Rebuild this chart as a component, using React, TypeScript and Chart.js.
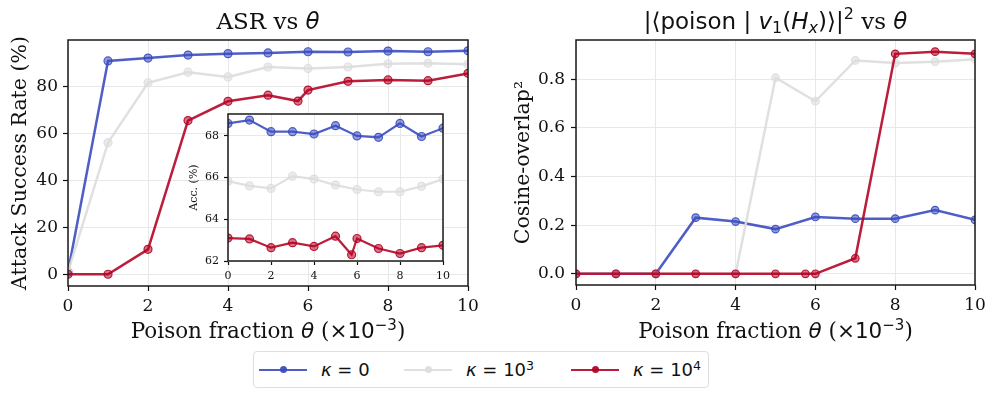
import React, { useEffect, useRef } from "react";
import { Chart, registerables } from "chart.js";
Chart.register(...registerables);

// ---------- data ----------
const THETA = [0, 1, 2, 3, 4, 5, 6, 7, 8, 9, 10];
const THETA_K4 = [0, 1, 2, 3, 4, 5, 5.75, 6, 7, 8, 9, 10];

const ASR_K0 = [1.0, 90.8, 92.0, 93.3, 93.9, 94.2, 94.7, 94.6, 95.0, 94.7, 95.1];
const ASR_K3 = [1.0, 56.0, 81.5, 86.0, 84.0, 88.2, 87.6, 88.2, 89.6, 89.8, 89.4];
const ASR_K4 = [0, 0, 10.6, 65.4, 73.6, 76.2, 73.7, 78.4, 82.1, 82.7, 82.4, 85.5];

const ACC_K0 = [68.6, 68.76, 68.2, 68.2, 68.09, 68.49, 68.0, 67.93, 68.6, 67.97, 68.37];
const ACC_K3 = [65.83, 65.6, 65.48, 66.07, 65.93, 65.64, 65.43, 65.32, 65.32, 65.58, 65.93];
const ACC_K4 = [63.1, 63.06, 62.64, 62.88, 62.7, 63.19, 62.3, 63.08, 62.6, 62.36, 62.64, 62.75];

const COS_K0 = [0, 0, 0, 0.231, 0.215, 0.184, 0.234, 0.227, 0.227, 0.262, 0.222];
const COS_K3 = [0, 0, 0, 0, 0, 0.807, 0.71, 0.878, 0.867, 0.873, 0.883];
const COS_K4 = [0, 0, 0, 0, 0, 0, 0, 0, 0.064, 0.905, 0.914, 0.905];

const X_TICKS = [0, 2, 4, 6, 8, 10];
const ASR_TICKS = [0, 20, 40, 60, 80];
const ACC_TICKS = [62, 64, 66, 68];
const COS_TICKS = [0, 0.2, 0.4, 0.6, 0.8];

const SERIES_NAMES = ["κ = 0", "κ = 10³", "κ = 10⁴"];

// ---------- style ----------
const SERIF = '"DejaVu Serif", serif';
const SANS = '"DejaVu Sans", sans-serif';
const RGB_K0 = [59, 76, 192];
const RGB_K3 = [221, 221, 221];
const RGB_K4 = [180, 4, 38];
const TEXT = "#111";

const rgba = (c: number[], a: number) => `rgba(${c[0]},${c[1]},${c[2]},${a})`;

function series(label: string, xs: number[], ys: number[], rgb: number[], order: number, radius: number, lw: number) {
  return {
    label,
    data: xs.map((x, i) => ({ x, y: ys[i] })),
    borderColor: rgba(rgb, 0.9),
    backgroundColor: rgba(rgb, 0.55),
    borderWidth: lw,
    pointRadius: radius,
    pointHoverRadius: radius,
    pointBackgroundColor: rgba(rgb, 0.55),
    pointBorderColor: rgba(rgb, 0.9),
    pointBorderWidth: 1.2,
    tension: 0,
    fill: false,
    clip: 0,
    order,
  };
}

function axis(o: {
  min: number;
  max: number;
  ticks: number[];
  fmt: (v: number) => string;
  size: number;
  tickLen: number;
  pad: number;
  fit: (s: any) => void;
  title?: { text: string; size: number; pad: number };
}) {
  return {
    type: "linear",
    min: o.min,
    max: o.max,
    afterBuildTicks: (s: any) => {
      s.ticks = o.ticks.map((v) => ({ value: v }));
    },
    afterFit: o.fit,
    ticks: {
      callback: (v: any) => o.fmt(Number(v)),
      font: { family: SERIF, size: o.size },
      color: TEXT,
      padding: o.pad,
      maxRotation: 0,
      autoSkip: false,
    },
    grid: {
      color: "#e8e8e8",
      lineWidth: 1,
      tickColor: TEXT,
      tickLength: o.tickLen,
      tickWidth: 1.2,
      drawTicks: true,
    },
    border: { display: false },
    title: o.title
      ? {
          display: true,
          text: o.title.text,
          font: { family: SERIF, size: o.title.size },
          color: TEXT,
          padding: { top: o.title.pad, bottom: 0 },
        }
      : { display: false },
  };
}

type Run = { t: string; f: string; dy?: number };

function richPlugin(items: { runs: Run[]; y: number }[]) {
  return {
    id: "richText",
    afterDraw(chart: any) {
      const ctx = chart.ctx;
      const ca = chart.chartArea;
      for (const it of items) {
        ctx.save();
        ctx.fillStyle = TEXT;
        ctx.textBaseline = "alphabetic";
        ctx.textAlign = "left";
        let w = 0;
        for (const r of it.runs) {
          ctx.font = r.f;
          w += ctx.measureText(r.t).width;
        }
        let x = (ca.left + ca.right) / 2 - w / 2;
        for (const r of it.runs) {
          ctx.font = r.f;
          ctx.fillText(r.t, x, it.y + (r.dy || 0));
          x += ctx.measureText(r.t).width;
        }
        ctx.restore();
      }
    },
  };
}

const framePlugin = {
  id: "frame",
  afterDatasetsDraw(chart: any) {
    const { ctx, chartArea: ca } = chart;
    ctx.save();
    ctx.strokeStyle = "#1a1a1a";
    ctx.lineWidth = 1.5;
    ctx.strokeRect(ca.left, ca.top, ca.right - ca.left, ca.bottom - ca.top);
    ctx.restore();
  },
};

const whiteAreaPlugin = {
  id: "whiteArea",
  beforeDraw(chart: any) {
    const { ctx, chartArea: ca } = chart;
    ctx.save();
    ctx.fillStyle = "#ffffff";
    ctx.fillRect(ca.left, ca.top, ca.right - ca.left, ca.bottom - ca.top);
    ctx.restore();
  },
};

const T = 23; // title size
const TS = 16; // title script size
const L = 21.5; // x label size
const S = 15; // label script size

const xLabelRuns: Run[] = [
  { t: "Poison fraction ", f: `${L}px ${SERIF}` },
  { t: "θ", f: `italic ${L}px ${SANS}` },
  { t: " (", f: `${L}px ${SERIF}` },
  { t: "×10", f: `${L}px ${SANS}` },
  { t: "−3", f: `${S}px ${SANS}`, dy: -8.5 },
  { t: ")", f: `${L}px ${SERIF}` },
];

const leftTitleRuns: Run[] = [
  { t: "ASR vs ", f: `${T}px ${SERIF}` },
  { t: "θ", f: `italic ${T}px ${SANS}` },
];

const rightTitleRuns: Run[] = [
  { t: "|⟨poison | ", f: `${T}px ${SANS}` },
  { t: "v", f: `italic ${T}px ${SANS}` },
  { t: "1", f: `${TS}px ${SANS}`, dy: 4 },
  { t: "(", f: `${T}px ${SANS}` },
  { t: "H", f: `italic ${T}px ${SANS}` },
  { t: "x", f: `italic ${TS}px ${SANS}`, dy: 4 },
  { t: ")⟩|", f: `${T}px ${SANS}` },
  { t: "2", f: `${TS}px ${SANS}`, dy: -10 },
  { t: " vs ", f: `${T}px ${SERIF}` },
  { t: "θ", f: `italic ${T}px ${SANS}` },
];

const baseOptions = {
  responsive: false,
  animation: false,
  events: [],
  plugins: { legend: { display: false }, tooltip: { enabled: false } },
};

export default function App() {
  const leftRef = useRef<HTMLCanvasElement>(null);
  const rightRef = useRef<HTMLCanvasElement>(null);
  const insetRef = useRef<HTMLCanvasElement>(null);

  useEffect(() => {
    const charts: Chart[] = [];

    charts.push(
      new Chart(leftRef.current as HTMLCanvasElement, {
        type: "line",
        data: {
          datasets: [
            series(SERIES_NAMES[0], THETA, ASR_K0, RGB_K0, 2, 4, 2.5),
            series(SERIES_NAMES[1], THETA, ASR_K3, RGB_K3, 1, 4, 2.5),
            series(SERIES_NAMES[2], THETA_K4, ASR_K4, RGB_K4, 0, 4, 2.5),
          ],
        } as any,
        options: {
          ...baseOptions,
          layout: { padding: { top: 40, right: 29, left: 0, bottom: 0 } },
          scales: {
            x: axis({ min: 0, max: 10, ticks: X_TICKS, fmt: (v) => String(v), size: 17, tickLen: 5, pad: 5, fit: (s) => { s.height = 59; } }),
            y: axis({
              min: -5,
              max: 99.7,
              ticks: ASR_TICKS,
              fmt: (v) => String(v),
              size: 17,
              tickLen: 5,
              pad: 5,
              fit: (s) => { s.width = 68; },
              title: { text: "Attack Success Rate (%)", size: 20.5, pad: 8 },
            }),
          },
        } as any,
        plugins: [framePlugin, richPlugin([{ runs: leftTitleRuns, y: 29 }, { runs: xLabelRuns, y: 338 }])],
      })
    );

    charts.push(
      new Chart(rightRef.current as HTMLCanvasElement, {
        type: "line",
        data: {
          datasets: [
            series(SERIES_NAMES[0], THETA, COS_K0, RGB_K0, 2, 3.8, 2.5),
            series(SERIES_NAMES[1], THETA, COS_K3, RGB_K3, 1, 3.8, 2.5),
            series(SERIES_NAMES[2], THETA_K4, COS_K4, RGB_K4, 0, 3.8, 2.5),
          ],
        } as any,
        options: {
          ...baseOptions,
          layout: { padding: { top: 40, right: 22, left: 0, bottom: 0 } },
          scales: {
            x: axis({ min: 0, max: 10, ticks: X_TICKS, fmt: (v) => String(v), size: 17, tickLen: 5, pad: 5, fit: (s) => { s.height = 60; } }),
            y: axis({
              min: -0.046,
              max: 0.962,
              ticks: COS_TICKS,
              fmt: (v) => v.toFixed(1),
              size: 17,
              tickLen: 5,
              pad: 6,
              fit: (s) => { s.width = 79; },
              title: { text: "Cosine-overlap²", size: 20.5, pad: 14 },
            }),
          },
        } as any,
        plugins: [framePlugin, richPlugin([{ runs: rightTitleRuns, y: 29 }, { runs: xLabelRuns, y: 338 }])],
      })
    );

    charts.push(
      new Chart(insetRef.current as HTMLCanvasElement, {
        type: "line",
        data: {
          datasets: [
            series(SERIES_NAMES[0], THETA, ACC_K0, RGB_K0, 2, 4, 2.2),
            series(SERIES_NAMES[1], THETA, ACC_K3, RGB_K3, 1, 4, 2.2),
            series(SERIES_NAMES[2], THETA_K4, ACC_K4, RGB_K4, 0, 4, 2.2),
          ],
        } as any,
        options: {
          ...baseOptions,
          layout: { padding: { top: 14, right: 8, left: 0, bottom: 0 } },
          scales: {
            x: axis({ min: 0, max: 10, ticks: X_TICKS, fmt: (v) => String(v), size: 11, tickLen: 4, pad: 5, fit: (s) => { s.height = 24; } }),
            y: axis({
              min: 62,
              max: 69.05,
              ticks: ACC_TICKS,
              fmt: (v) => String(v),
              size: 11,
              tickLen: 4,
              pad: 5,
              fit: (s) => { s.width = 48; },
              title: { text: "Acc. (%)", size: 11, pad: 8 },
            }),
          },
        } as any,
        plugins: [whiteAreaPlugin, framePlugin],
      })
    );

    return () => charts.forEach((c) => c.destroy());
  }, []);

  const legendItems = [
    { rgb: RGB_K0, left: 6, main: "10", sup: "", plain: "0" },
    { rgb: RGB_K3, left: 151, main: "10", sup: "3", plain: "" },
    { rgb: RGB_K4, left: 318, main: "10", sup: "4", plain: "" },
  ];

  return (
    <div style={{ position: "absolute", left: 0, top: 0, width: 997, height: 398, background: "#fff", overflow: "hidden" }}>
      <canvas ref={leftRef} width={497} height={345} style={{ position: "absolute", left: 0, top: 0, width: 497, height: 345 }} />
      <canvas ref={rightRef} width={500} height={345} style={{ position: "absolute", left: 497, top: 0, width: 500, height: 345 }} />
      <canvas ref={insetRef} width={275} height={185} style={{ position: "absolute", left: 180, top: 100, width: 275, height: 185 }} />
      <div
        style={{
          position: "absolute",
          left: 253,
          top: 351,
          width: 456,
          height: 37,
          boxSizing: "border-box",
          border: "1px solid #dedede",
          borderRadius: 4,
          background: "rgba(255,255,255,0.8)",
        }}
      >
        {legendItems.map((it, i) => (
          <div key={i} style={{ position: "absolute", left: it.left - 1, top: 0, height: 35, display: "flex", alignItems: "center" }}>
            <div style={{ position: "relative", width: 48, height: 10 }}>
              <div style={{ position: "absolute", left: 0, top: 4, width: 48, height: 2.5, background: rgba(it.rgb, 0.9) }} />
              <div
                style={{
                  position: "absolute",
                  left: 20.5,
                  top: 1.5,
                  width: 7,
                  height: 7,
                  borderRadius: "50%",
                  background: rgba(it.rgb, 0.95),
                }}
              />
            </div>
            <span style={{ marginLeft: 14, font: `18px ${SANS}`, color: TEXT, whiteSpace: "nowrap" }}>
              <span style={{ fontStyle: "italic" }}>κ</span>
              {" = "}
              {it.plain ? it.plain : it.main}
              {it.sup ? <span style={{ fontSize: 12.6, verticalAlign: "0.5em" }}>{it.sup}</span> : null}
            </span>
          </div>
        ))}
      </div>
    </div>
  );
}
